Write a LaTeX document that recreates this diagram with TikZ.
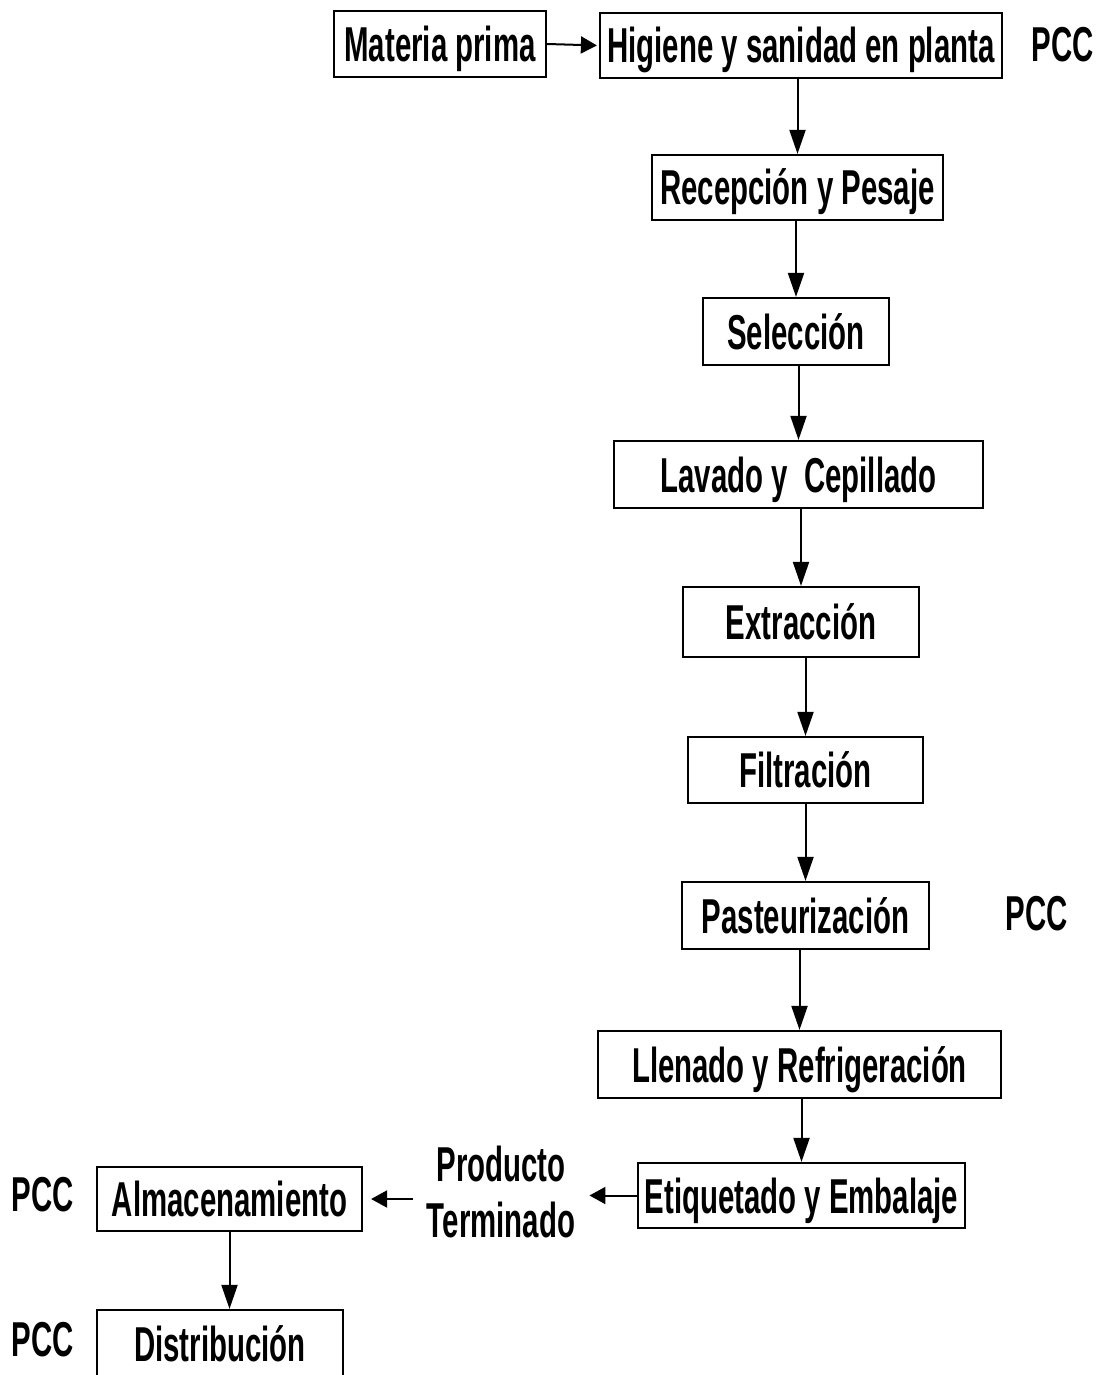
\documentclass[tikz,border=0pt]{standalone}
\usepackage{fontspec}
\setmainfont{Liberation Sans}[FakeStretch=0.60]
\usetikzlibrary{arrows.meta}

% one unit = one pixel of the 1100 x 1375 sheet, y grows downwards
\newcommand\stage[6]{%
  \node[stagebox, minimum width={(#4-#2)*0.5pt}, minimum height={(#5-#3)*0.5pt}]
    (#1) at ({(#2+#4)/2},{(#3+#5)/2}) {#6};}

\begin{document}
\begin{tikzpicture}[x=0.5pt, y=-0.5pt,
  every node/.style={font=\fontsize{24.5pt}{28pt}\selectfont\bfseries},
  stagebox/.style={draw, line width=1.1pt, inner sep=0pt, fill=white,
    text height=17.5pt, text depth=0pt},
  tag/.style={inner sep=0pt},
  flow/.style={line width=1pt, -{Triangle[length=12pt, width=8pt]}},
  side/.style={line width=1pt, -{Triangle[length=8pt, width=8.5pt]}}]
  \useasboundingbox (0,0) rectangle (1100,1375);

  % process stages
  \stage{mat}{334}{11}{546}{77}{Materia prima}
  \stage{hig}{600}{13}{1002}{78}{Higiene y sanidad en planta}
  \stage{rec}{652}{155}{943}{220}{Recepción y Pesaje}
  \stage{sel}{703}{298}{889}{365}{Selección}
  \stage{lav}{614}{441}{983}{508}{Lavado y~ Cepillado}
  \stage{ext}{683}{587}{919}{657}{Extracción}
  \stage{fil}{688}{737}{923}{803}{Filtración}
  \stage{pas}{682}{882}{929}{949}{Pasteurización}
  \stage{lle}{598}{1031}{1001}{1098}{Llenado y Refrigeración}
  \stage{eti}{638}{1163}{965}{1228}{Etiquetado y Embalaje}
  \stage{alm}{97}{1167}{362}{1231}{Almacenamiento}
  \stage{dis}{97}{1310}{343}{1378}{Distribución}

  % intermediate product
  \node[tag, align=center, inner xsep=7pt] (pt) at (501,1192) {Producto\\Terminado};

  % critical control points
  \node[tag] (pcc1) at (1063,45) {PCC};
  \node[tag] (pcc2) at (1037,914) {PCC};
  \node[tag] (pcc3) at (43,1195) {PCC};
  \node[tag] (pcc4) at (43,1340) {PCC};

  % connectors
  \draw[side, shorten >=1pt] (mat.east) -- (hig.west);
  \draw[flow] (rec.north |- hig.south) -- (rec.north);
  \draw[flow] (sel.north |- rec.south) -- (sel.north);
  \draw[flow] (lav.north |- sel.south) -- (lav.north);
  \draw[flow] (ext.north |- lav.south) -- (ext.north);
  \draw[flow] (fil.north |- ext.south) -- (fil.north);
  \draw[flow] (pas.north |- fil.south) -- (pas.north);
  \draw[flow] (lle.north |- pas.south) -- (lle.north);
  \draw[flow] (eti.north |- lle.south) -- (eti.north);
  \draw[side] (eti.west) -- (eti.west -| pt.east);
  \draw[side, shorten >=4pt] (pt.west |- alm.east) -- (alm.east);
  \draw[flow] (alm.south) -- (alm.south |- dis.north);
\end{tikzpicture}
\end{document}
